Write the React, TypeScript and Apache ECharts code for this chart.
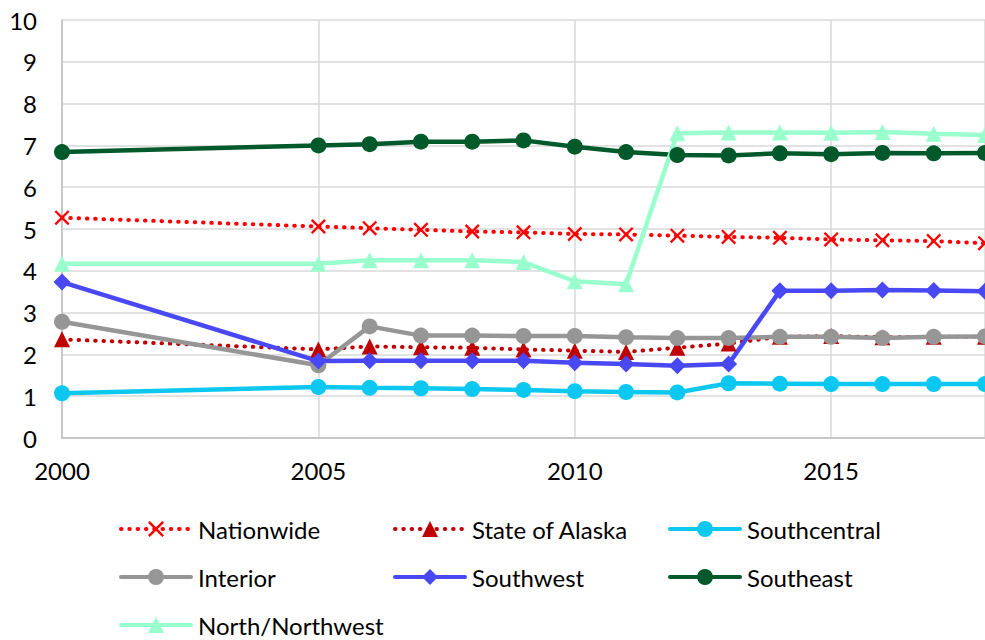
import React, { useEffect, useRef } from "react";
import * as echarts from "echarts";

const years = [2000, 2005, 2006, 2007, 2008, 2009, 2010, 2011, 2012, 2013, 2014, 2015, 2016, 2017, 2018];
const nationwide = [5.27, 5.06, 5.02, 4.98, 4.94, 4.92, 4.88, 4.87, 4.84, 4.81, 4.79, 4.75, 4.73, 4.71, 4.66];
const stateOfAlaska = [2.36, 2.12, 2.19, 2.17, 2.16, 2.12, 2.09, 2.06, 2.16, 2.26, 2.42, 2.44, 2.41, 2.42, 2.42];
const southcentral = [1.07, 1.22, 1.2, 1.19, 1.17, 1.15, 1.12, 1.1, 1.09, 1.31, 1.3, 1.29, 1.29, 1.29, 1.29];
const interior = [2.78, 1.74, 2.67, 2.45, 2.45, 2.44, 2.44, 2.41, 2.39, 2.39, 2.42, 2.42, 2.39, 2.42, 2.43];
const southwest = [3.73, 1.84, 1.85, 1.85, 1.85, 1.85, 1.8, 1.77, 1.73, 1.77, 3.52, 3.52, 3.54, 3.53, 3.51];
const southeast = [6.84, 7.0, 7.03, 7.09, 7.09, 7.12, 6.97, 6.84, 6.77, 6.76, 6.81, 6.79, 6.82, 6.81, 6.82];
const northNorthwest = [4.17, 4.17, 4.25, 4.25, 4.25, 4.21, 3.75, 3.68, 7.29, 7.31, 7.31, 7.3, 7.32, 7.28, 7.25];

const yTicks = [0, 1, 2, 3, 4, 5, 6, 7, 8, 9, 10];
const xTickLabels = [2000, 2005, 2010, 2015];

const FONT = "Lato";
const X_MARK = "path://M0,1.1L1.1,0L10,8.9L8.9,10Z M8.9,0L10,1.1L1.1,10L0,8.9Z";

export default function App() {
  const ref = useRef<HTMLDivElement>(null);
  useEffect(() => {
    document.body.style.margin = "0";
    const chart = echarts.init(ref.current!, null, { renderer: "svg" });
    const pts = (vals: number[]) => years.map((y, i) => [y, vals[i]]);
    const dotted = { type: [0.5, 7.8] as any, cap: "round" as any, width: 4 };
    const mk = (name: string, vals: number[], color: string, symbol: string, size: number, dots: boolean) => ({
      name,
      type: "line",
      data: pts(vals),
      symbol,
      symbolSize: size,
      showSymbol: true,
      clip: false,
      lineStyle: dots ? { ...dotted, color } : { width: 4.5, color, cap: "round" },
      itemStyle: { color, borderWidth: 0 },
      emphasis: { disabled: true },
    });
    const legendBase = {
      orient: "vertical",
      padding: 0,
      itemWidth: 70,
      itemHeight: 20,
      itemGap: 24,
      lineStyle: { width: 4 },
      textStyle: { fontFamily: FONT, fontSize: 24, color: "#000", lineHeight: 24, padding: [0, 0, 0, 2] },
      selectedMode: false,
    };
    chart.setOption({
      animation: false,
      textStyle: { fontFamily: FONT },
      grid: { left: 62, right: -6, top: 20, bottom: 202 },
      xAxis: {
        type: "value",
        min: 2000,
        max: 2018,
        interval: 5,
        axisLine: { show: true, lineStyle: { color: "#BFBFBF", width: 1.5 } },
        axisTick: { show: false },
        splitLine: { show: true, lineStyle: { color: "#D9D9D9", width: 1.5 } },
        axisLabel: {
          fontFamily: FONT,
          fontSize: 24,
          color: "#000",
          margin: 20,
          showMaxLabel: false,
          formatter: (v: number) => (xTickLabels.includes(v) ? String(v) : ""),
        },
      },
      yAxis: {
        type: "value",
        min: yTicks[0],
        max: yTicks[yTicks.length - 1],
        interval: 1,
        axisLine: { show: true, lineStyle: { color: "#BFBFBF", width: 1.5 } },
        axisTick: { show: false },
        splitLine: { show: true, lineStyle: { color: "#D9D9D9", width: 1.5 } },
        axisLabel: { fontFamily: FONT, fontSize: 24, color: "#000", margin: 25 },
      },
      legend: [
        { ...legendBase, left: 119, top: 517, data: ["Nationwide", "Interior"] },
        { ...legendBase, left: 119, top: 613, data: ["North/Northwest"] },
        { ...legendBase, left: 393, top: 517, data: ["State of Alaska", "Southwest"] },
        { ...legendBase, left: 668, top: 517, data: ["Southcentral", "Southeast"] },
      ],
      series: [
        mk("Nationwide", nationwide, "#FF0000", X_MARK, 15, true),
        mk("State of Alaska", stateOfAlaska, "#C00000", "triangle", 16, true),
        mk("Southcentral", southcentral, "#0CC8F0", "circle", 16, false),
        mk("Interior", interior, "#969696", "circle", 16, false),
        mk("Southwest", southwest, "#4848F5", "diamond", 17, false),
        mk("Southeast", southeast, "#00592B", "circle", 16, false),
        mk("North/Northwest", northNorthwest, "#99FFCC", "triangle", 16, false),
      ],
    });
    return () => chart.dispose();
  }, []);
  return <div ref={ref} style={{ width: 985, height: 640 }} />;
}
